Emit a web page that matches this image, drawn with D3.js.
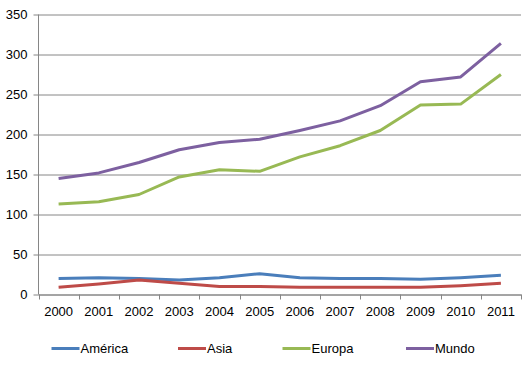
<!DOCTYPE html>
<html><head><meta charset="utf-8">
<script src="https://cdn.jsdelivr.net/npm/d3@7/dist/d3.min.js"></script>
<style>body{margin:0;background:#fff}svg{display:block}text{font-family:"Liberation Sans",Arial,sans-serif;}</style>
</head><body><svg id="c" width="525" height="369"></svg>
<script>
const years = ["2000","2001","2002","2003","2004","2005","2006","2007","2008","2009","2010","2011"];
const america = [20,21,20,18,21,26,21,20,20,19,21,24];
const asia = [9,13,18,14,10,10,9,9,9,9,11,14];
const europa = [113,116,125,147,156,154,172,186,205,237,238,275];
const mundo = [145,152,165,181,190,194,205,217,236,266,272,314];
const seriesNames = ["América","Asia","Europa","Mundo"];
const yTicks = [0,50,100,150,200,250,300,350];
const colors = ["#4a7ebb","#be4b48","#98b954","#7d60a0"];
const seriesData = [america, asia, europa, mundo];

(function(){
const svg = d3.select("#c");
const mL = 38.5, mR = 521, mT = 14.5, mB = 294.5;
const x = d3.scaleBand().domain(years).range([mL, mR]);
const y = d3.scaleLinear().domain([0,350]).range([mB, mT]);

const yAxis = d3.axisLeft(y).tickValues(yTicks).tickSize(-(mR-mL)).tickPadding(11);
const gy = svg.append("g").attr("transform",`translate(${mL},0)`).call(yAxis);
gy.select(".domain").remove();
gy.selectAll(".tick line").attr("stroke","#868686").attr("x1",-5);
gy.selectAll(".tick text").attr("font-size","13px").attr("fill","#000");
gy.attr("font-family",null);

svg.append("line").attr("x1",mL).attr("x2",mL).attr("y1",mT).attr("y2",mB)
  .attr("stroke","#868686");

const gx = svg.append("g").attr("transform",`translate(0,${mB})`)
  .call(d3.axisBottom(x).tickSize(0).tickPadding(12));
gx.select(".domain").attr("stroke","#868686");
gx.selectAll(".tick text").attr("font-size","13px").attr("fill","#000");
gx.attr("font-family",null);
const bounds = years.map(d => x(d)).concat([mR]);
svg.append("g").selectAll("line").data(bounds).join("line")
  .attr("x1",d=>Math.round(d)+0.5).attr("x2",d=>Math.round(d)+0.5)
  .attr("y1",mB).attr("y2",mB+5).attr("stroke","#868686");

const line = d3.line().x((d,i)=>x(years[i])+x.bandwidth()/2).y(d=>y(d));
svg.append("g").selectAll("path").data(seriesData).join("path")
  .attr("d",line).attr("fill","none")
  .attr("stroke",(d,i)=>colors[i]).attr("stroke-width",3)
  .attr("stroke-linejoin","round").attr("stroke-linecap","butt");

const legX = [51.5, 178, 282.5, 406];
const lg = svg.append("g").selectAll("g").data(seriesNames).join("g")
  .attr("transform",(d,i)=>`translate(${legX[i]},348.5)`);
lg.append("line").attr("x1",0).attr("x2",28).attr("y1",0).attr("y2",0)
  .attr("stroke",(d,i)=>colors[i]).attr("stroke-width",3);
lg.append("text").attr("x",29).attr("y",4.5).attr("font-size","13px").text(d=>d);
})();
</script></body></html>
